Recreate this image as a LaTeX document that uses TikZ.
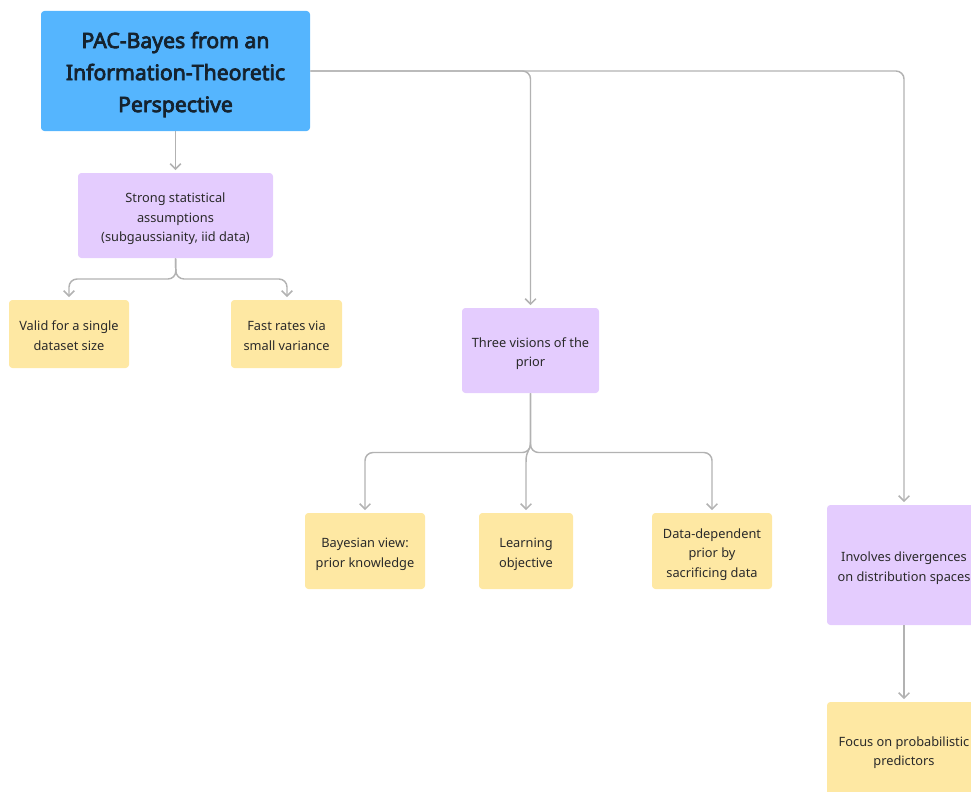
\documentclass[tikz,border=0pt]{standalone}
\usepackage{fontspec}
\setmainfont{Noto Sans}
\newfontfamily\rootfont{Noto Sans}[FakeBold=3.6]
\usetikzlibrary{arrows.meta}
\definecolor{rootblue}{HTML}{55B5FE}
\definecolor{lpurple}{HTML}{E4CCFE}
\definecolor{lyellow}{HTML}{FEE8A3}
\definecolor{conngray}{HTML}{B2B2B2}
\definecolor{roottext}{HTML}{15232F}
\definecolor{boxtext}{HTML}{2A2A2A}
\newcommand{\boxtxt}[2][-2pt]{\raisebox{#1}[\height][\depth]{\begin{tabular}{@{}c@{}}#2\end{tabular}}}
\tikzset{
  basebox/.style={rounded corners=2.5pt, inner sep=0pt, text=boxtext,
    font=\fontsize{9.6pt}{14.6pt}\selectfont},
  rootbox/.style={basebox, fill=rootblue, text=roottext,
    font=\rootfont\fontsize{15.9pt}{24pt}\selectfont},
  purplebox/.style={basebox, fill=lpurple},
  yellowbox/.style={basebox, fill=lyellow},
  conn/.style={draw=conngray, line width=1.1pt, rounded corners=6pt},
  arr/.style={conn, -{Straight Barb[length=4pt,width=8pt,line width=1.1pt]}, shorten >=2pt}
}
\begin{document}
\begin{tikzpicture}[x=0.75pt,y=-0.75pt]
\useasboundingbox (0,0) rectangle (971,792);
\clip (0,0) rectangle (971,792);
\node[rootbox, minimum width=201.75pt, minimum height=90pt] (root) at (175.5,71)
  {\boxtxt[-2pt]{PAC-Bayes from an\\Information-Theoretic\\Perspective}};
\node[purplebox, minimum width=146.25pt, minimum height=63.75pt] (strong) at (175.5,215.5)
  {\boxtxt{Strong statistical\\assumptions\\(subgaussianity, iid data)}};
\node[yellowbox, minimum width=90pt, minimum height=51pt] (valid) at (69,334)
  {\boxtxt{Valid for a single\\dataset size}};
\node[yellowbox, minimum width=83.25pt, minimum height=51pt] (fast) at (286.5,334)
  {\boxtxt{Fast rates via\\small variance}};
\node[purplebox, minimum width=102.75pt, minimum height=63.75pt] (three) at (530.5,350.5)
  {\boxtxt{Three visions of the\\prior}};
\node[yellowbox, minimum width=90pt, minimum height=57pt] (bayes) at (365,551)
  {\boxtxt{Bayesian view:\\prior knowledge}};
\node[yellowbox, minimum width=70.5pt, minimum height=57pt] (learn) at (526,551)
  {\boxtxt{Learning\\objective}};
\node[yellowbox, minimum width=90pt, minimum height=57pt] (data) at (712,551)
  {\boxtxt{Data-dependent\\prior by\\sacrificing data}};
\node[purplebox, minimum width=115.5pt, minimum height=90pt] (inv) at (904,565)
  {\boxtxt{Involves divergences\\on distribution spaces}};
\node[yellowbox, minimum width=115.5pt, minimum height=71.25pt] (focus) at (904,749.5)
  {\boxtxt{Focus on probabilistic\\predictors}};
% connectors
\coordinate (jl) at (176,279);
\coordinate (jt) at (530.5,452.5);
\draw[arr] (root.south) -- (strong.north);
\draw[arr] (strong.south) -- (jl) -- (69,279) -- (valid.north -| 69,0);
\draw[arr] (strong.south) -- (jl) -- (287,279) -- (fast.north -| 287,0);
\draw[arr] (root.east |- 0,71) -- (530.5,71) -- (three.north);
\draw[arr] (root.east |- 0,71) -- (904,71) -- (inv.north);
\draw[arr] (three.south) -- (jt) -- (365,452.5) -- (bayes.north);
\draw[arr] (three.south) -- (jt) -- (712,452.5) -- (data.north);
\draw[arr, rounded corners=0pt] (three.south) -- (530.5,442) .. controls (530.5,452) and (526,449) .. (526,462) -- (learn.north);
\draw[arr] (inv.south) -- (focus.north);
\end{tikzpicture}
\end{document}
